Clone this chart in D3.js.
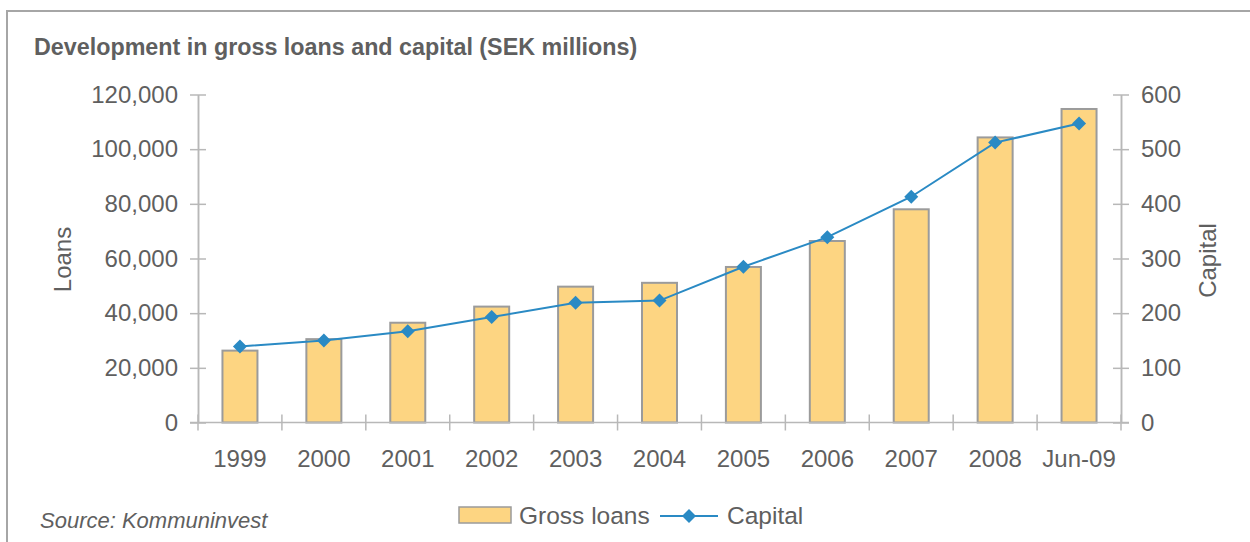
<!DOCTYPE html>
<html>
<head>
<meta charset="utf-8">
<script src="https://cdn.jsdelivr.net/npm/d3@7"></script>
<style>
  html, body { margin: 0; padding: 0; background: #fff; }
  svg { display: block; font-family: "Liberation Sans", Arial, sans-serif; }
</style>
</head>
<body>
<svg id="chart" width="1250" height="542"></svg>
<script>
// Categories and series (SEK millions)
const categories = ["1999", "2000", "2001", "2002", "2003", "2004", "2005", "2006", "2007", "2008", "Jun-09"];
const grossLoans = [26300, 30500, 36500, 42400, 49700, 51100, 56900, 66400, 78000, 104300, 114700];
const capital = [139, 150, 167, 193, 219, 223, 285, 339, 413, 512, 547];
const loanTicks = [0, 20000, 40000, 60000, 80000, 100000, 120000];
const capitalTicks = [0, 100, 200, 300, 400, 500, 600];

const svg = d3.select("#chart");
const textColor = "#5f5f5f";
const axisColor = "#b8b8b8";
const barFill = "#fdd582";
const barStroke = "#9b9b9b";
const lineColor = "#2a8ac4";

const plot = { left: 198, right: 1121, top: 94.5, bottom: 422.5 };

// Frame
svg.append("path")
  .attr("d", "M7,542 L7,11 L1250,11")
  .attr("fill", "none")
  .attr("stroke", "#a6a6a6")
  .attr("stroke-width", 2);

// Title
svg.append("text")
  .attr("x", 34).attr("y", 55)
  .attr("fill", textColor)
  .attr("font-weight", "bold")
  .attr("font-size", 23.3)
  .text("Development in gross loans and capital (SEK millions)");

// Scales
const x = d3.scaleBand().domain(categories).range([plot.left, plot.right]).padding(0);
const yL = d3.scaleLinear().domain([0, 120000]).range([plot.bottom, plot.top]);
const yR = d3.scaleLinear().domain([0, 600]).range([plot.bottom, plot.top]);
const barW = 35;

function styleAxis(g) {
  g.select(".domain").attr("stroke", axisColor).attr("stroke-width", 1.5);
  g.selectAll(".tick line").attr("stroke", axisColor).attr("stroke-width", 1.5);
  g.selectAll(".tick text").attr("fill", textColor).attr("font-size", 24)
    .attr("font-family", "Liberation Sans, Arial, sans-serif");
}

// Left axis (ticks cross the axis line)
const leftAxis = svg.append("g").attr("transform", `translate(${plot.left},0)`)
  .call(d3.axisLeft(yL).tickValues(loanTicks).tickFormat(d3.format(",")).tickSizeInner(8).tickSizeOuter(0).tickPadding(12));
styleAxis(leftAxis);
const leftAxis2 = svg.append("g").attr("transform", `translate(${plot.left},0)`)
  .call(d3.axisRight(yL).tickValues(loanTicks).tickFormat("").tickSizeInner(8).tickSizeOuter(0));
styleAxis(leftAxis2);

// Right axis
const rightAxis = svg.append("g").attr("transform", `translate(${plot.right},0)`)
  .call(d3.axisRight(yR).tickValues(capitalTicks).tickSizeInner(8).tickSizeOuter(0).tickPadding(12));
styleAxis(rightAxis);
const rightAxis2 = svg.append("g").attr("transform", `translate(${plot.right},0)`)
  .call(d3.axisLeft(yR).tickValues(capitalTicks).tickFormat("").tickSizeInner(8).tickSizeOuter(0));
styleAxis(rightAxis2);

// Bars
svg.append("g").selectAll("rect")
  .data(categories)
  .join("rect")
  .attr("x", (d) => x(d) + x.bandwidth() / 2 - barW / 2)
  .attr("y", (d, i) => yL(grossLoans[i]))
  .attr("width", barW)
  .attr("height", (d, i) => yL(0) - yL(grossLoans[i]))
  .attr("fill", barFill)
  .attr("stroke", barStroke)
  .attr("stroke-width", 2);

// Category axis: labels centred, ticks at band boundaries
const xAxis = svg.append("g").attr("transform", `translate(0,${plot.bottom})`)
  .call(d3.axisBottom(x).tickSize(0).tickPadding(27));
xAxis.select(".domain").remove();
xAxis.selectAll(".tick text").attr("fill", textColor).attr("font-size", 24)
  .attr("font-family", "Liberation Sans, Arial, sans-serif");
const boundaries = categories.map((c) => x(c)).concat([x(categories[categories.length - 1]) + x.bandwidth()]);
svg.append("line")
  .attr("x1", plot.left - 8).attr("x2", plot.right + 8)
  .attr("y1", plot.bottom).attr("y2", plot.bottom)
  .attr("stroke", axisColor).attr("stroke-width", 1.5);
svg.append("g").selectAll("line")
  .data(boundaries)
  .join("line")
  .attr("x1", (d) => d).attr("x2", (d) => d)
  .attr("y1", plot.bottom - 8).attr("y2", plot.bottom + 8)
  .attr("stroke", axisColor).attr("stroke-width", 1.5);

// Capital line with diamond markers
const line = d3.line()
  .x((d, i) => x(categories[i]) + x.bandwidth() / 2)
  .y((d) => yR(d));
svg.append("path")
  .datum(capital)
  .attr("d", line)
  .attr("fill", "none")
  .attr("stroke", lineColor)
  .attr("stroke-width", 2);
const diamond = d3.symbol().type(d3.symbolSquare).size(98);
svg.append("g").selectAll("path")
  .data(capital)
  .join("path")
  .attr("d", diamond)
  .attr("transform", (d, i) => `translate(${x(categories[i]) + x.bandwidth() / 2},${yR(d)}) rotate(45)`)
  .attr("fill", lineColor);

// Axis titles
svg.append("text")
  .attr("transform", `translate(71,${(plot.top + plot.bottom) / 2 + 1}) rotate(-90)`)
  .attr("text-anchor", "middle")
  .attr("fill", textColor).attr("font-size", 24)
  .text("Loans");
svg.append("text")
  .attr("transform", `translate(1216,${(plot.top + plot.bottom) / 2 + 2}) rotate(-90)`)
  .attr("text-anchor", "middle")
  .attr("fill", textColor).attr("font-size", 24)
  .text("Capital");

// Legend
const legend = svg.append("g");
legend.append("rect")
  .attr("x", 459).attr("y", 507).attr("width", 52).attr("height", 16)
  .attr("fill", barFill).attr("stroke", barStroke).attr("stroke-width", 1.5);
legend.append("text")
  .attr("x", 519).attr("y", 524)
  .attr("fill", textColor).attr("font-size", 24.5)
  .text("Gross loans");
legend.append("line")
  .attr("x1", 660).attr("x2", 718).attr("y1", 516).attr("y2", 516)
  .attr("stroke", lineColor).attr("stroke-width", 2);
legend.append("path")
  .attr("d", diamond)
  .attr("transform", "translate(689,516) rotate(45)")
  .attr("fill", lineColor);
legend.append("text")
  .attr("x", 727).attr("y", 524)
  .attr("fill", textColor).attr("font-size", 24.5)
  .text("Capital");

// Source note
svg.append("text")
  .attr("x", 40).attr("y", 528)
  .attr("fill", textColor)
  .attr("font-style", "italic")
  .attr("font-size", 22)
  .text("Source: Kommuninvest");
</script>
</body>
</html>
